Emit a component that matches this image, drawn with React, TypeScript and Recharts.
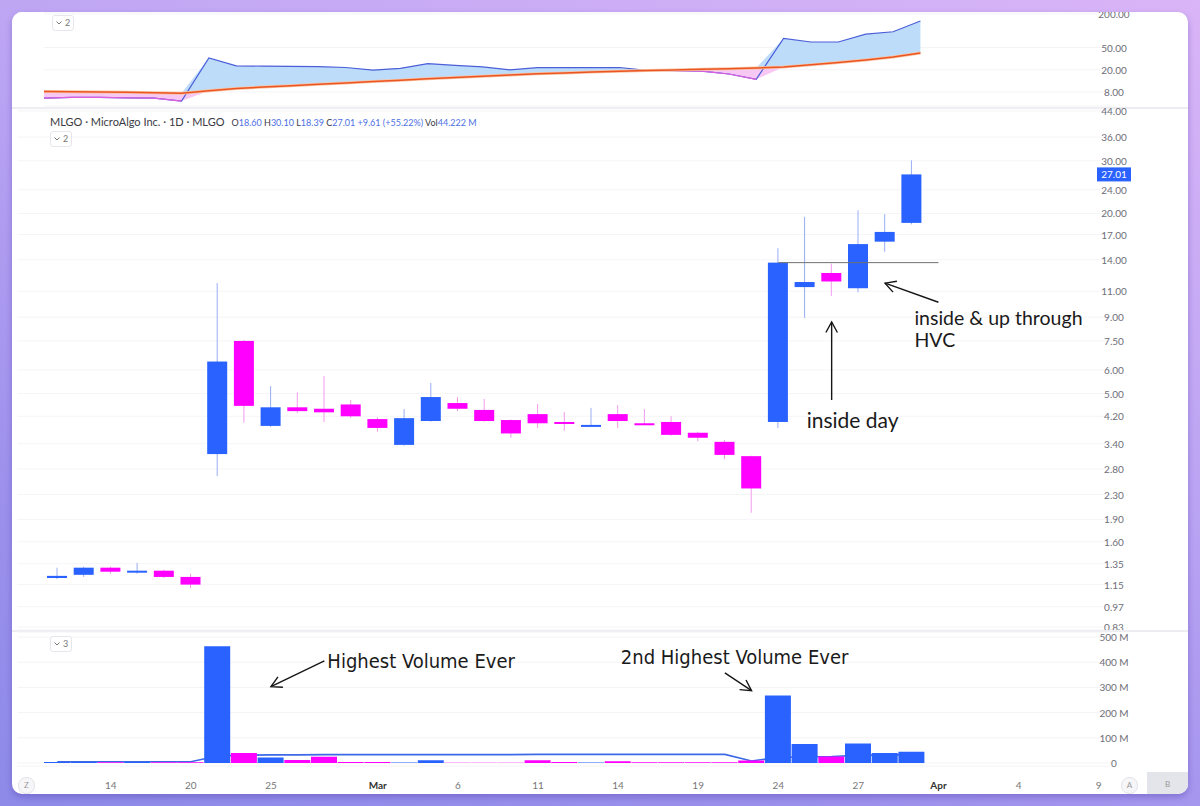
import React from "react";
import {
  ComposedChart,
  Bar,
  Line,
  Area,
  XAxis,
  YAxis,
  CartesianGrid,
  ReferenceLine,
  Cell,
} from "recharts";

// trading days shown on the axis (Feb 11 only feeds the top pane's lines, it sits off the left edge)
const leadDay = "Feb 11";
const sessionDays = [
  "Feb 12", "Feb 13", "Feb 14", "Feb 18", "Feb 19", "Feb 20", "Feb 21",
  "Feb 24", "Feb 25", "Feb 26", "Feb 27", "Feb 28",
  "Mar 3", "Mar 4", "Mar 5", "Mar 6", "Mar 7",
  "Mar 10", "Mar 11", "Mar 12", "Mar 13", "Mar 14",
  "Mar 17", "Mar 18", "Mar 19", "Mar 20", "Mar 21",
  "Mar 24", "Mar 25", "Mar 26", "Mar 27", "Mar 28", "Mar 31",
];
const futureDays = ["Apr 1", "Apr 2", "Apr 3", "Apr 4", "Apr 7", "Apr 8", "Apr 9"];

const opens = [1.21, 1.24, 1.31, 1.27, 1.28, 1.22, 3.14, 7.5, 3.9, 4.5, 4.45, 4.6, 4.11, 3.37, 4.05, 4.65, 4.41, 4.08, 4.27, 4.02, 3.9, 4.27, 3.98, 4.02, 3.7, 3.45, 3.09, 4.02, 11.35, 12.65, 11.25, 16.1, 18.6];
const highs = [1.31, 1.32, 1.32, 1.36, 1.29, 1.25, 11.7, 7.55, 5.3, 5.05, 5.73, 4.76, 4.17, 4.44, 5.43, 4.87, 4.8, 4.1, 4.62, 4.34, 4.48, 4.58, 4.44, 4.2, 3.73, 3.5, 3.1, 15.3, 19.5, 13.6, 20.5, 19.9, 30.1];
const lows = [1.2, 1.22, 1.25, 1.25, 1.21, 1.12, 2.65, 4.0, 3.87, 4.3, 4.02, 4.15, 3.73, 3.35, 4.03, 4.37, 4.03, 3.56, 3.84, 3.76, 3.89, 3.84, 3.94, 3.62, 3.46, 3.02, 2.0, 3.84, 8.95, 10.6, 10.9, 14.9, 18.39];
const closes = [1.23, 1.31, 1.27, 1.28, 1.22, 1.15, 6.4, 4.55, 4.5, 4.37, 4.33, 4.2, 3.84, 4.14, 4.87, 4.45, 4.05, 3.68, 3.98, 3.96, 3.93, 4.05, 3.95, 3.64, 3.56, 3.12, 2.41, 13.7, 11.8, 11.85, 15.8, 17.35, 27.01];

// volume in millions
const volumes = [4, 4, 3, 4, 3, 3, 463, 40, 22, 12, 25, 4, 4, 2, 11, 0.8, 0.8, 0.8, 11, 4, 2, 7, 3, 3, 3, 3, 10, 268, 75, 26, 77, 40, 44.222];
const volumeAvg = [5, 5, 5, 5, 5, 5, 28, 31, 32, 32, 33, 33, 33, 33, 33, 33, 33, 33, 34, 34, 34, 34, 34, 34, 34, 34, 8, 22, 25, 26, 30, 31, 33];

// top pane: indicator line and its average, from Feb 11
const trendLine = [6.1, 6.2, 6.4, 6.4, 6.3, 6.2, 5.5, 32.5, 23.5, 23.3, 23.0, 22.8, 22.0, 19.8, 21.2, 25.8, 24.0, 22.5, 20.0, 21.8, 21.8, 21.8, 22.0, 19.6, 19.3, 18.9, 16.8, 13.5, 73, 63, 63, 87, 96, 150];
const baseLine = [8.3, 8.2, 8.1, 8.0, 7.9, 7.75, 7.6, 8.4, 9.2, 9.8, 10.4, 11.0, 11.6, 12.3, 13.0, 13.8, 14.6, 15.3, 16.2, 17.0, 17.6, 18.2, 18.8, 19.4, 19.9, 20.4, 20.9, 21.5, 22.5, 24.5, 27, 30, 34, 40];

const priceTicks = [0.83, 0.97, 1.15, 1.35, 1.6, 1.9, 2.3, 2.8, 3.4, 4.2, 5, 6, 7.5, 9, 11, 14, 17, 20, 24, 30, 36, 44];
const ratioTicks = [8, 20, 50, 200];
const volumeTicks = [0, 100, 200, 300, 400, 500];
const dayLabels: Record<string, string> = {
  "Feb 14": "14", "Feb 20": "20", "Feb 25": "25", "Mar 3": "Mar", "Mar 6": "6",
  "Mar 11": "11", "Mar 14": "14", "Mar 19": "19", "Mar 24": "24", "Mar 27": "27",
  "Apr 1": "Apr", "Apr 4": "4", "Apr 9": "9",
};

const BLUE = "#2962ff";
const MAGENTA = "#ff00ff";
const FONT = "Lato, 'Open Sans', 'DejaVu Sans', sans-serif";
const NARROW = "'Liberation Sans Narrow', 'DejaVu Sans Condensed', 'Liberation Sans', sans-serif";

const axisDays = [leadDay, ...sessionDays, ...futureDays];
const hvcClose = closes[sessionDays.indexOf("Mar 24")];
const lastClose = closes[closes.length - 1];

const rows = axisDays.map((day, i) => {
  const s = i - 1;
  const bar = s >= 0 && s < sessionDays.length;
  const line = i < trendLine.length;
  const t = trendLine[i];
  const b = baseLine[i];
  return {
    day,
    open: bar ? opens[s] : null,
    close: bar ? closes[s] : null,
    high: bar ? highs[s] : null,
    low: bar ? lows[s] : null,
    range: bar ? [lows[s], highs[s]] : null,
    up: bar ? closes[s] >= opens[s] : true,
    volume: bar ? volumes[s] : null,
    volumeAvg: bar ? volumeAvg[s] : null,
    trend: line ? t : null,
    trendLow: line && t < b ? t : null,
    base: line ? b : null,
    baseGlow: line ? b : null,
    above: line ? [b, Math.max(t, b)] : null,
    below: line ? [Math.min(t, b), b] : null,
  };
});

const W = 1176;
const margin = { top: 0, right: 0, bottom: 0, left: 5.3 };

function Candle(props: any) {
  const { x, y, width, height, payload } = props;
  if (!payload || payload.open == null || !isFinite(y) || !isFinite(height)) return <g />;
  const { open, close, high, low, up } = payload;
  const span = Math.log(high) - Math.log(low);
  const at = (v: number) => y + (span > 0 ? ((Math.log(high) - Math.log(v)) / span) * height : 0);
  const top = at(Math.max(open, close));
  const bottom = at(Math.min(open, close));
  const cx = x + width / 2;
  return (
    <g>
      <line x1={cx} x2={cx} y1={y} y2={y + height} stroke={up ? "#98aef5" : "#f29aee"} strokeWidth={1} />
      <rect x={x} y={top} width={width} height={Math.max(bottom - top, 2)} fill={up ? BLUE : MAGENTA} />
    </g>
  );
}

function NoteArrow(props: any) {
  const { x1, y1, x2, y2, lines, dx, dy, lead = 20, narrow, size } = props;
  if (![x1, y1, x2, y2].every((v) => isFinite(v))) return <g />;
  const ang = Math.atan2(y2 - y1, x2 - x1);
  const head = 12;
  const a = 0.5;
  const p1 = `${x2 - head * Math.cos(ang - a)},${y2 - head * Math.sin(ang - a)}`;
  const p2 = `${x2 - head * Math.cos(ang + a)},${y2 - head * Math.sin(ang + a)}`;
  return (
    <g>
      <line x1={x1} y1={y1} x2={x2} y2={y2} stroke="#161616" strokeWidth={1.4} />
      <polyline points={`${p1} ${x2},${y2} ${p2}`} fill="none" stroke="#161616" strokeWidth={1.4} />
      <text
        x={x1 + dx}
        y={y1 + dy}
        dominantBaseline="central"
        fontFamily={narrow ? NARROW : FONT}
        fontSize={size}
        fill="#1a1a1a"
      >
        {lines.map((t: string, i: number) => (
          <tspan key={t} x={x1 + dx} dy={i === 0 ? 0 : lead}>
            {t}
          </tspan>
        ))}
      </text>
    </g>
  );
}

function AxisNumber(props: any) {
  const { x, y, payload, fmt } = props;
  return (
    <text x={x + 2} y={y} textAnchor="middle" dominantBaseline="central" fontSize={10} fill="#6e6e78" fontFamily={FONT}>
      {fmt(payload.value)}
    </text>
  );
}

function DayLabel(props: any) {
  const { x, y, payload } = props;
  const label = dayLabels[payload.value];
  if (!label) return <g />;
  const bold = label === "Mar" || label === "Apr";
  return (
    <text x={x} y={y + 19} textAnchor="middle" dominantBaseline="central" fontSize={10} fontWeight={bold ? 700 : 400} fill={bold ? "#333" : "#777"} fontFamily={FONT}>
      {label}
    </text>
  );
}

function LastTag(props: any) {
  const vb = props.viewBox;
  if (!vb) return null;
  const right = vb.x + vb.width;
  return (
    <g>
      <rect x={right - 15} y={vb.y - 7} width={34} height={14} fill={BLUE} />
      <text x={right + 2} y={vb.y} textAnchor="middle" dominantBaseline="central" fontSize={10} fill="#fff" fontFamily={FONT}>
        {lastClose.toFixed(2)}
      </text>
    </g>
  );
}

function PaneToggle({ left, top, count }: { left: number; top: number; count: number }) {
  return (
    <div
      style={{
        position: "absolute", left, top, height: 14, padding: "0 3px", border: "1px solid #e6e6ec",
        borderRadius: 3, background: "#fff", display: "flex", alignItems: "center", gap: 3,
        fontSize: 9, color: "#777", fontFamily: FONT, lineHeight: "14px",
      }}
    >
      <svg width="6" height="4" viewBox="0 0 6 4">
        <path d="M0.5 0.5 L3 3 L5.5 0.5" fill="none" stroke="#777" strokeWidth="1" />
      </svg>
      {count}
    </div>
  );
}

const dark = { color: "#3a3a44" };
const blueTxt = { color: "#4d70e3" };

export default function App() {
  return (
    <div
      style={{
        position: "fixed", left: 0, top: 0, width: 1200, height: 806, overflow: "hidden",
        background: "linear-gradient(200deg, #dab5f7 0%, #bba4f3 40%, #9c90ec 75%, #8d8ae8 100%)",
        fontFamily: FONT,
      }}
    >
      <style>{".recharts-surface{overflow:visible}"}</style>
      <div
        style={{
          position: "absolute", left: 12, top: 12, width: W, height: 782, background: "#fff",
          borderRadius: 10, overflow: "hidden", boxShadow: "0 3px 6px rgba(70,50,160,0.35)",
        }}
      >
        {/* top pane */}
        <div style={{ position: "absolute", left: 0, top: 0 }}>
          <ComposedChart width={W} height={94} data={rows} margin={margin}>
            <CartesianGrid vertical={false} stroke="#f4f4f7" />
            <XAxis dataKey="day" hide />
            <YAxis
              orientation="right" width={76} scale="log" domain={[4.49, 217]} allowDataOverflow
              ticks={ratioTicks} interval={0} axisLine={false} tickLine={false} tickSize={0} tickMargin={0}
              tick={<AxisNumber fmt={(v: number) => v.toFixed(2)} />}
            />
            <Area dataKey="above" stroke="none" fill="#bddcfa" fillOpacity={1} isAnimationActive={false} />
            <Area dataKey="below" stroke="none" fill="#f8c8f4" fillOpacity={1} isAnimationActive={false} />
            <Line dataKey="trend" stroke="#4a5fd8" strokeWidth={1.2} dot={false} isAnimationActive={false} />
            <Line dataKey="trendLow" stroke="#e25ee0" strokeWidth={1.2} dot={false} isAnimationActive={false} />
            <Line dataKey="baseGlow" stroke="#f9c3a2" strokeWidth={3} dot={false} isAnimationActive={false} />
            <Line dataKey="base" stroke="#eb5522" strokeWidth={1.5} dot={false} isAnimationActive={false} />
          </ComposedChart>
        </div>
        <div style={{ position: "absolute", left: 0, top: 0, width: 32, height: 95, background: "#fff" }} />
        <PaneToggle left={40} top={3} count={2} />
        <div style={{ position: "absolute", left: 0, top: 95, width: W, height: 2, background: "#ececf1" }} />

        {/* price pane */}
        <div style={{ position: "absolute", left: 0, top: 97 }}>
          <ComposedChart width={W} height={521} data={rows} margin={margin}>
            <CartesianGrid vertical={false} stroke="#f5f5f8" />
            <XAxis dataKey="day" hide />
            <YAxis
              orientation="right" width={76} scale="log" domain={[0.811, 44.68]} allowDataOverflow
              ticks={priceTicks} interval={0} axisLine={false} tickLine={false} tickSize={0} tickMargin={0}
              tick={<AxisNumber fmt={(v: number) => v.toFixed(2)} />}
            />
            <ReferenceLine
              segment={[{ x: "Mar 24", y: hvcClose }, { x: "Apr 1", y: hvcClose }]}
              stroke="#707070" strokeWidth={1}
            />
            <Bar dataKey="range" barSize={20} shape={(p: any) => <Candle {...p} />} isAnimationActive={false} />
            <ReferenceLine y={lastClose} stroke="none" label={(p: any) => <LastTag {...p} />} />
            <ReferenceLine
              segment={[{ x: "Mar 26", y: 4.76 }, { x: "Mar 26", y: 8.68 }]}
              shape={(p: any) => <NoteArrow {...p} lines={["inside day"]} dx={-25} dy={19} size={21} />}
            />
            <ReferenceLine
              segment={[{ x: "Apr 1", y: 10.1 }, { x: "Mar 28", y: 11.7 }]}
              shape={(p: any) => <NoteArrow {...p} lines={["inside & up through", "HVC"]} dx={-24} dy={15} lead={22} size={19.5} />}
            />
          </ComposedChart>
        </div>
        <div style={{ position: "absolute", left: 38, top: 101, lineHeight: "14px", whiteSpace: "nowrap", fontFamily: FONT }}>
          <span style={{ ...dark, fontSize: 11 }}>MLGO · MicroAlgo Inc. · 1D · MLGO</span>
          <span style={{ marginLeft: 7, fontSize: 9 }}>
            <span style={dark}>O</span><span style={blueTxt}>18.60</span>{" "}
            <span style={dark}>H</span><span style={blueTxt}>30.10</span>{" "}
            <span style={dark}>L</span><span style={blueTxt}>18.39</span>{" "}
            <span style={dark}>C</span><span style={blueTxt}>27.01</span>{" "}
            <span style={blueTxt}>+9.61 (+55.22%)</span>{" "}
            <span style={dark}>Vol</span><span style={blueTxt}>44.222 M</span>
          </span>
        </div>
        <PaneToggle left={38} top={119} count={2} />
        <div style={{ position: "absolute", left: 0, top: 618, width: W, height: 2, background: "#ececf1" }} />

        {/* volume pane */}
        <div style={{ position: "absolute", left: 0, top: 620 }}>
          <ComposedChart width={W} height={162} data={rows} margin={margin}>
            <CartesianGrid vertical={false} stroke="#f4f4f7" />
            <XAxis
              dataKey="day" interval={0} height={28} axisLine={false} tickLine={false}
              tickSize={0} tickMargin={0} tick={<DayLabel />}
            />
            <YAxis
              orientation="right" width={76} domain={[-12, 520]} allowDataOverflow
              ticks={volumeTicks} interval={0} axisLine={false} tickLine={false} tickSize={0} tickMargin={0}
              tick={<AxisNumber fmt={(v: number) => (v === 0 ? "0" : `${v} M`)} />}
            />
            <Line dataKey="volumeAvg" stroke="#3d68e6" strokeWidth={1.6} dot={false} isAnimationActive={false} zIndex={250} />
            <Bar dataKey="volume" barSize={26} isAnimationActive={false}>
              {rows.map((r) => (
                <Cell key={r.day} fill={r.up ? BLUE : MAGENTA} />
              ))}
            </Bar>
            <ReferenceLine
              segment={[{ x: "Feb 27", y: 405 }, { x: "Feb 25", y: 303 }]}
              shape={(p: any) => <NoteArrow {...p} lines={["Highest Volume Ever"]} dx={3} dy={0} narrow size={20} />}
            />
            <ReferenceLine
              segment={[{ x: "Mar 20", y: 358 }, { x: "Mar 21", y: 287 }]}
              shape={(p: any) => <NoteArrow {...p} lines={["2nd Highest Volume Ever"]} dx={-104} dy={-16} narrow size={20} />}
            />
          </ComposedChart>
        </div>
        <PaneToggle left={38} top={624} count={3} />

        {/* bottom chrome */}
        <div style={{ position: "absolute", left: 6, top: 765, width: 15, height: 15, borderRadius: 8, border: "1px solid #e2e2e8", background: "#f6f6f8", color: "#999", fontSize: 8, textAlign: "center", lineHeight: "15px" }}>Z</div>
        <div style={{ position: "absolute", left: 1109, top: 765, width: 15, height: 15, borderRadius: 8, border: "1px solid #e2e2e8", background: "#f6f6f8", color: "#999", fontSize: 8, textAlign: "center", lineHeight: "15px" }}>A</div>
        <div style={{ position: "absolute", left: 1135, top: 760, width: 41, height: 22, background: "#e4e5eb", color: "#999", fontSize: 8, textAlign: "center", lineHeight: "24px" }}>B</div>
      </div>
    </div>
  );
}
